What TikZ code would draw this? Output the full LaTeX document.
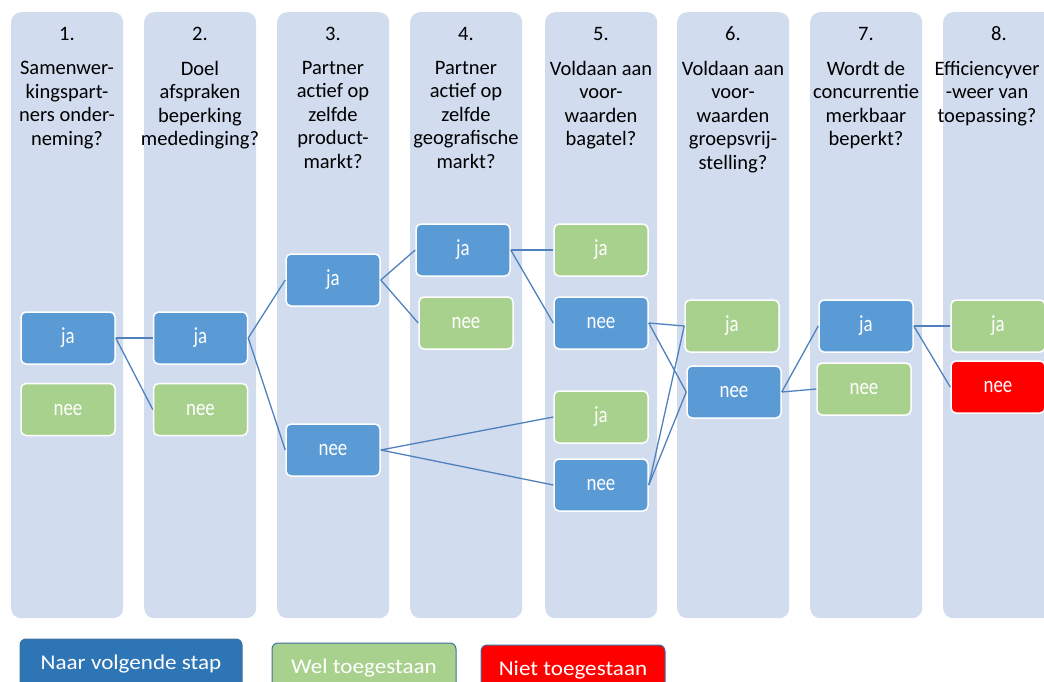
\documentclass[tikz,border=0pt]{standalone}
\usepackage{fontspec}
\setmainfont{Carlito}
\newfontfamily\boxfont{Carlito}[FakeStretch=0.82]
\newfontfamily\keyfont{Carlito}[FakeStretch=1.1]
\usetikzlibrary{positioning}
\definecolor{colbg}{HTML}{D1DCEE}
\definecolor{gofill}{HTML}{5B9BD5}
\definecolor{okfill}{HTML}{A9D18E}
\definecolor{linkblue}{HTML}{4F81BD}
\definecolor{stepblue}{HTML}{2E75B6}
\definecolor{legendrim}{HTML}{41719C}

\tikzset{
  column/.style={fill=colbg, rounded corners=10pt, minimum width=112pt, minimum height=606pt, anchor=north west, inner sep=0pt},
  stepnr/.style={font=\fontsize{20.5}{23.5}\selectfont, anchor=base},
  question/.style={font=\fontsize{20.5}{23.5}\selectfont, align=center, anchor=north, inner sep=0pt},
  answer/.style={draw=white, line width=1.5pt, rounded corners=5pt, minimum width=94pt, minimum height=52pt, text=white, font=\boxfont\fontsize{23}{26}\selectfont},
  gobox/.style={answer, fill=gofill},
  okbox/.style={answer, fill=okfill},
  stopbox/.style={answer, fill=red},
  link/.style={draw=linkblue, line width=1.3pt},
  legend/.style={draw=legendrim, line width=1pt, rounded corners=6pt, minimum width=184pt, minimum height=50pt, text=white, font=\keyfont\fontsize{21}{24}\selectfont},
}

\begin{document}
\begin{tikzpicture}[x=1pt, y=-1pt]
    \useasboundingbox (0,0) rectangle (1044,682);
    \clip (0,0) rectangle (1044,682);

    % the eight steps
    \node [column] (col1) at (11,12)  {};
    \node [column] (col2) at (144,12) {};
    \node [column] (col3) at (277,12) {};
    \node [column] (col4) at (410,12) {};
    \node [column] (col5) at (545,12) {};
    \node [column] (col6) at (677,12) {};
    \node [column] (col7) at (810,12) {};
    \node [column] (col8) at (943,12) {};

    \node [stepnr] (nr1) at (67,41)  {1. };
    \node [stepnr] (nr2) at (200,41) {2.};
    \node [stepnr] (nr3) at (333,41) {3.};
    \node [stepnr] (nr4) at (466,41) {4. };
    \node [stepnr] (nr5) at (601,41) {5. };
    \node [stepnr] (nr6) at (733,41) {6. };
    \node [stepnr] (nr7) at (866,41) {7. };
    \node [stepnr] (nr8) at (999,41) {8. };

    \node [question] (q1) at (67,61)  {Samenwer-\\kingspart-\\ners onder-\\neming?};
    \node [question] (q2) at (200,61) {Doel \\afspraken\\beperking \\mededinging?};
    \node [question] (q3) at (333,61) {Partner \\actief op \\zelfde \\product-\\markt?};
    \node [question] (q4) at (466,61) {Partner \\actief op \\zelfde \\geografische \\markt?};
    \node [question] (q5) at (601,61) {Voldaan aan \\voor-\\waarden\\bagatel?};
    \node [question] (q6) at (733,61) {Voldaan aan \\voor-\\waarden\\groepsvrij-\\stelling?};
    \node [question] (q7) at (866,61) {Wordt de \\concurrentie \\merkbaar \\beperkt?};
    \node [question] (q8) at (987,61) {Efficiencyver\\-weer van \\toepassing?};

    % answers
    \node [gobox] (ja1) at (68,338) {ja};
    \node [okbox, below=18pt of ja1] (nee1) {nee};
    \node [gobox, right=37pt of ja1] (ja2) {ja};
    \node [okbox, below=18pt of ja2] (nee2) {nee};

    \node [gobox] (ja3)  at (333,280) {ja};
    \node [gobox] (nee3) at (333,450) {nee};

    \node [gobox] (ja4)  at (463,250) {ja};
    \node [okbox] (nee4) at (466,323) {nee};

    \node [okbox] (ja5a)  at (601,250) {ja};
    \node [gobox] (nee5a) at (601,323) {nee};
    \node [okbox] (ja5b)  at (601,417) {ja};
    \node [gobox] (nee5b) at (601,485) {nee};

    \node [okbox] (ja6)  at (732,326) {ja};
    \node [gobox] (nee6) at (734,392) {nee};

    \node [gobox] (ja7)  at (866,326) {ja};
    \node [okbox] (nee7) at (864,389) {nee};

    \node [okbox]   (ja8)  at (998,326) {ja};
    \node [stopbox] (nee8) at (998,387) {nee};

    % connectors
    \draw [link] (ja1.east) -- (ja2.west);
    \draw [link] (ja1.east) -- (nee2.west);
    \draw [link] (ja2.east) -- (ja3.west);
    \draw [link] (ja2.east) -- (nee3.west);
    \draw [link] (ja3.east) -- (ja4.west);
    \draw [link] (ja3.east) -- (nee4.west);
    \draw [link] (ja4.east) -- (ja5a.west);
    \draw [link] (ja4.east) -- (nee5a.west);
    \draw [link] (nee3.east) -- (ja5b.west);
    \draw [link] (nee3.east) -- (nee5b.west);
    \draw [link] (nee5a.east) -- (ja6.west);
    \draw [link] (nee5a.east) -- (nee6.west);
    \draw [link] (nee5b.east) -- (ja6.west);
    \draw [link] (nee5b.east) -- (nee6.west);
    \draw [link] (nee6.east) -- (ja7.west);
    \draw [link] (nee6.east) -- (nee7.west);
    \draw [link] (ja7.east) -- (ja8.west);
    \draw [link] (ja7.east) -- (nee8.west);

    % legend
    \node [legend, fill=stepblue, minimum width=222pt] (lgstep) at (131,664) {Naar volgende stap};
    \node [legend, fill=okfill] (lgok)   at (364,668) {Wel toegestaan};
    \node [legend, fill=red]    (lgstop) at (573,670) {Niet toegestaan};
\end{tikzpicture}
\end{document}
